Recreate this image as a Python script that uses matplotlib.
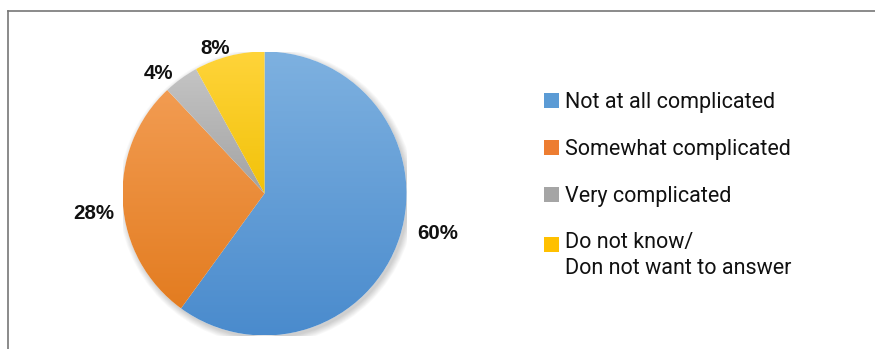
import numpy as np
import matplotlib.pyplot as plt
from matplotlib.colors import LinearSegmentedColormap
from matplotlib.patches import Patch, Circle, Rectangle
from matplotlib.legend_handler import HandlerPatch
from matplotlib.lines import Line2D

categories = ["Not at all complicated", "Somewhat complicated", "Very complicated",
              "Do not know/\nDon not want to answer"]
shares = [60, 28, 4, 8]
pct_labels = ["60%", "28%", "4%", "8%"]

# gradient colours per slice (top, bottom)
top_colors = ["#7eb1e0", "#f29c52", "#c4c4c4", "#ffd43a"]
bottom_colors = ["#4a8bcd", "#e37c20", "#a3a3a3", "#f2c20a"]
legend_colors = ["#5b9bd5", "#ed7d31", "#a5a5a5", "#ffc000"]

fig = plt.figure(figsize=(8.75, 3.49), dpi=100)
W, H = 875, 349
cx, cy, r = 264.5, 193.5, 142
ax = fig.add_axes([(cx - r) / W, (H - cy - r) / H, 2 * r / W, 2 * r / H])
ax.set_xlim(-1, 1)
ax.set_ylim(-1, 1)
ax.axis("off")

# soft shadow
for i in range(8):
    ax.add_patch(Circle((0.015, -0.02), 1.0 + i * 0.006, color="black",
                        alpha=0.025, lw=0, zorder=0))
ax.add_patch(Circle((0, 0), 1.0, color="white", lw=0, zorder=0.5))

wedges, _ = ax.pie(shares, startangle=90, counterclock=False, radius=1,
                   colors=legend_colors, wedgeprops=dict(linewidth=0))

grad = np.linspace(1, 0, 256).reshape(-1, 1)
for w, c1, c2 in zip(wedges, top_colors, bottom_colors):
    w.set_facecolor("none")
    cmap = LinearSegmentedColormap.from_list("g", [c2, c1])
    th1, th2 = np.radians(w.theta1), np.radians(w.theta2)
    t = np.linspace(th1, th2, 100)
    ys = np.concatenate([[0], np.sin(t)])
    im = ax.imshow(grad, cmap=cmap, extent=[-1, 1, ys.min(), ys.max()],
                   aspect="auto", zorder=1, interpolation="bilinear")
    im.set_clip_path(w)
ax.set_xlim(-1, 1)
ax.set_ylim(-1, 1)

# percentage labels outside the slices
nudges = [(5, 1.25), (3, 1.21), (5.5, 1.13), (4.3, 1.08)]
for w, lab, (da, dist) in zip(wedges, pct_labels, nudges):
    ang = np.radians((w.theta1 + w.theta2) / 2 + da)
    ax.text(dist * np.cos(ang), dist * np.sin(ang), lab, ha="center", va="center",
            fontsize=14.8, fontweight="bold", family="Liberation Sans", color="#111111",
            clip_on=False)


class TopHandler(HandlerPatch):
    # keeps the marker level with the first line of a two-line label
    def __init__(self, shift):
        super().__init__()
        self.shift = shift

    def create_artists(self, legend, orig_handle, xdescent, ydescent, width, height,
                       fontsize, trans):
        p = Rectangle((-xdescent, -ydescent + self.shift), width, height,
                      facecolor=orig_handle.get_facecolor(), edgecolor="none",
                      transform=trans)
        return [p]


handles = [Patch(facecolor=c, edgecolor="none") for c in legend_colors]
leg = fig.legend(handles, categories, loc="upper left", bbox_to_anchor=(544 / W, 1 - 92 / H),
                 frameon=False, borderpad=0, borderaxespad=0,
                 prop={"family": "Roboto", "size": 15.5},
                 handlelength=0.68, handleheight=0.68, handletextpad=0.3,
                 labelspacing=1.2,
                 handler_map={handles[3]: TopHandler(8.6)})
for t in leg.get_texts():
    t.set_linespacing(1.31)
    t.set_color("#111111")

# chart frame (top and left edges only visible)
fig.add_artist(Line2D([8 / W, 1], [1 - 11 / H, 1 - 11 / H], color="#777777", lw=1.2))
fig.add_artist(Line2D([8 / W, 8 / W], [0, 1 - 11 / H], color="#777777", lw=1.2))

fig.savefig("out.png", dpi=100)
